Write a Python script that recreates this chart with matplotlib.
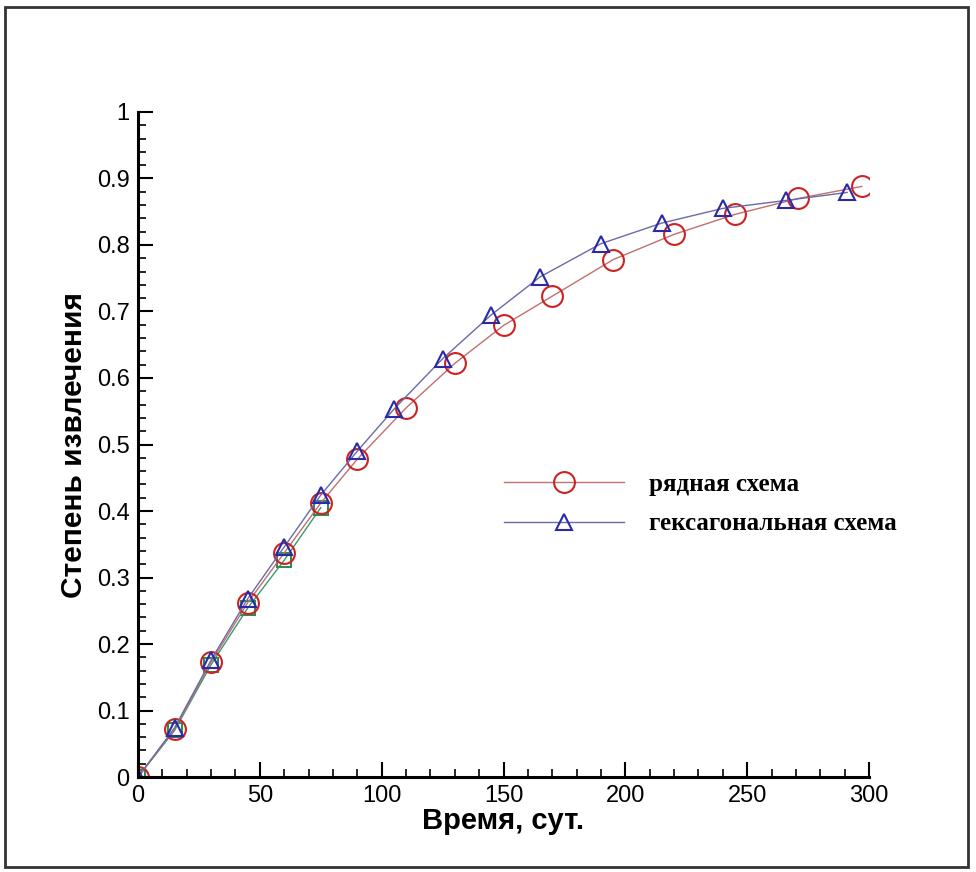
import matplotlib.pyplot as plt
from matplotlib.patches import Rectangle
from matplotlib.ticker import MultipleLocator

# ряд (red circles)
t_row = [0, 15, 30, 45, 60, 75, 90, 110, 130, 150, 170, 195, 220, 245, 271, 297]
k_row = [0.0, 0.072, 0.173, 0.262, 0.337, 0.412, 0.478, 0.555, 0.622, 0.679, 0.723,
         0.778, 0.816, 0.846, 0.870, 0.888]

# гексагональная (blue triangles)
t_hex = [0, 15, 30, 45, 60, 75, 90, 105, 125, 145, 165, 190, 215, 240, 266, 291]
k_hex = [0.0, 0.074, 0.176, 0.268, 0.346, 0.424, 0.490, 0.553, 0.629, 0.695, 0.752,
         0.802, 0.833, 0.855, 0.867, 0.879]

# partial third series visible at the start
t_sq = [0, 15, 30, 45, 60, 75]
k_sq = [0.0, 0.070, 0.169, 0.254, 0.326, 0.405]

fig = plt.figure(figsize=(9.76, 8.72), dpi=100)
ax = fig.add_axes([0.1414, 0.1089, 0.749, 0.7627])

ax.plot(t_sq, k_sq, color='#3a9a6a', lw=1, marker='s', ms=10, mfc='none',
        mec='#2e8b57', mew=1.5)
ax.plot(t_row, k_row, color='#c07070', lw=1, marker='o', ms=15, mfc='none',
        mec='#cc2222', mew=1.5, label='рядная схема')
ax.plot(t_hex, k_hex, color='#6a6aa8', lw=1, marker='^', ms=12, mfc='none',
        mec='#2a2aa8', mew=1.5, label='гексагональная схема')

ax.set_xlim(0, 300)
ax.set_ylim(0, 1)
ax.xaxis.set_major_locator(MultipleLocator(50))
ax.xaxis.set_minor_locator(MultipleLocator(10))
ax.yaxis.set_major_locator(MultipleLocator(0.1))
ax.yaxis.set_minor_locator(MultipleLocator(0.02))
ax.yaxis.set_major_formatter(lambda v, p: '0' if v == 0 else ('1' if v == 1 else f'{v:.1f}'))

for s in ['top', 'right']:
    ax.spines[s].set_visible(False)
for s in ['left', 'bottom']:
    ax.spines[s].set_linewidth(2.2)

ax.tick_params(which='major', direction='in', length=11, width=1.5, labelsize=17, pad=6)
ax.tick_params(which='minor', direction='in', length=6, width=1.2)
for lab in ax.get_xticklabels() + ax.get_yticklabels():
    lab.set_family('Liberation Sans')

ax.set_xlabel('Время, сут.', fontsize=21, fontweight='bold', family='Liberation Sans', labelpad=0)
ax.set_ylabel('Степень извлечения', fontsize=21.5, fontweight='bold', family='Liberation Sans', labelpad=6)

ax.legend(frameon=False, loc='center left', bbox_to_anchor=(0.5, 0.41),
          borderaxespad=0, borderpad=0, handlelength=4.8, handletextpad=1.0,
          labelspacing=0.65, prop={'family': 'Liberation Serif', 'size': 18, 'weight': 'bold'})

fig.patches.append(Rectangle((5 / 976, 1 - 867 / 872), 963 / 976, 860 / 872,
                             transform=fig.transFigure, fill=False,
                             edgecolor='#333333', lw=2))

fig.savefig('out.png', dpi=100)
